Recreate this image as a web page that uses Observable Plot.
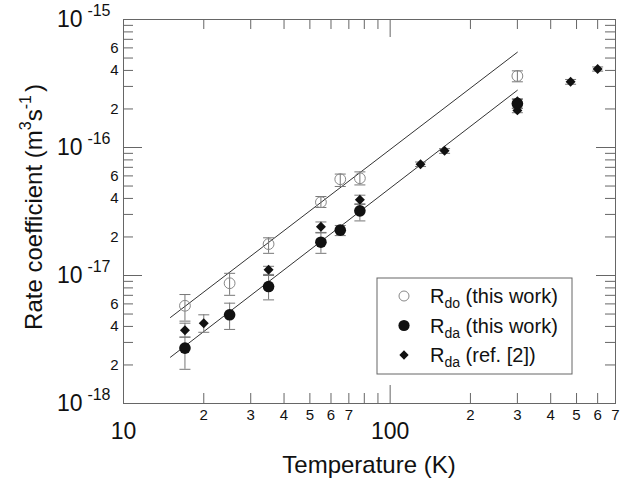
<!DOCTYPE html>
<html>
<head>
<meta charset="utf-8">
<script src="https://cdn.jsdelivr.net/npm/d3@7"></script>
<script src="https://cdn.jsdelivr.net/npm/@observablehq/plot@0.6"></script>
<style>
  html, body { margin: 0; padding: 0; background: #fff; }
  #chart { width: 637px; height: 486px; }
</style>
</head>
<body>
<div id="chart"></div>
<script>
// ---- data ----
const T_this = [17, 25, 35, 55, 65, 77, 300];
const Rdo    = [5.8e-18, 8.7e-18, 1.76e-17, 3.74e-17, 5.65e-17, 5.75e-17, 3.62e-16];
const Rdo_lo = [4.4e-18, 7.0e-18, 1.49e-17, 3.4e-17, 4.96e-17, 5.1e-17, 3.26e-16];
const Rdo_hi = [7.1e-18, 1.04e-17, 1.97e-17, 4.14e-17, 6.2e-17, 6.45e-17, 3.97e-16];

const Rda    = [2.71e-18, 4.93e-18, 8.2e-18, 1.82e-17, 2.26e-17, 3.2e-17, 2.2e-16];
const Rda_lo = [1.85e-18, 3.79e-18, 6.45e-18, 1.49e-17, 2.05e-17, 2.67e-17, 2.02e-16];
const Rda_hi = [3.3e-18, 6.08e-18, 1.0e-17, 2.17e-17, 2.46e-17, 3.59e-17, 2.38e-16];

const T_ref   = [17, 20, 35, 55, 77, 130, 160, 300, 300, 475, 600];
const Rref    = [3.74e-18, 4.24e-18, 1.11e-17, 2.4e-17, 3.9e-17, 7.41e-17, 9.42e-17, 1.95e-16, 2.3e-16, 3.26e-16, 4.1e-16];
const Rref_lo = [3.3e-18, 3.6e-18, 1.02e-17, 2.15e-17, 3.63e-17, 7.1e-17, 9.0e-17, 1.87e-16, 2.2e-16, 3.12e-16, 3.95e-16];
const Rref_hi = [4.24e-18, 4.93e-18, 1.18e-17, 2.62e-17, 4.24e-17, 7.7e-17, 9.8e-17, 2.03e-16, 2.4e-16, 3.4e-16, 4.26e-16];

const fitT  = [15, 300];
const fitDo = [4.7e-18, 5.55e-16];
const fitDa = [2.3e-18, 2.8e-16];

const xMajorTicks = [10, 100];
const xMinorTicks = [20, 30, 40, 50, 60, 70, 80, 90, 200, 300, 400, 500, 600, 700];
const xLabelTicks = [20, 30, 40, 50, 60, 70, 200, 300, 400, 500, 600, 700];
const yMajorTicks = [1e-18, 1e-17, 1e-16, 1e-15];
const yMinorTicks = [2e-18,3e-18,4e-18,5e-18,6e-18,7e-18,8e-18,9e-18,
                     2e-17,3e-17,4e-17,5e-17,6e-17,7e-17,8e-17,9e-17,
                     2e-16,3e-16,4e-16,5e-16,6e-16,7e-16,8e-16,9e-16];
const yLabelTicks = [2e-18,4e-18,6e-18,2e-17,4e-17,6e-17,2e-16,4e-16,6e-16];

const xTitle = "Temperature (K)";
const legendLabels = [["R","do"," (this work)"],["R","da"," (this work)"],["R","da"," (ref. [2])"]];

// ---- tables ----
const doData  = T_this.map((t,i) => ({T:t, v:Rdo[i], lo:Rdo_lo[i], hi:Rdo_hi[i]}));
const daData  = T_this.map((t,i) => ({T:t, v:Rda[i], lo:Rda_lo[i], hi:Rda_hi[i]}));
const refData = T_ref.map((t,i) => ({T:t, v:Rref[i], lo:Rref_lo[i], hi:Rref_hi[i]}));
const fitData = [
  ...fitT.map((t,i) => ({T:t, v:fitDo[i], s:"do"})),
  ...fitT.map((t,i) => ({T:t, v:fitDa[i], s:"da"}))
];

const W = 637, H = 486, mL = 123, mR = 22, mT = 19, mB = 83;
const PH = H - mT - mB, PW = W - mL - mR;
const axisColor = "#666";
const errColor = "#777";

const cap = { draw(ctx) { ctx.moveTo(-5.5, 0); ctx.lineTo(5.5, 0); } };
const lead = v => Math.round(v / Math.pow(10, Math.floor(Math.log10(v) + 1e-9)));

function errMarks(data) {
  return [
    Plot.ruleX(data, {x:"T", y1:"lo", y2:"hi", stroke: errColor, strokeWidth: 1}),
    Plot.dot(data, {x:"T", y:"lo", symbol: cap, r: 5, stroke: errColor, fill: "none", strokeWidth: 1}),
    Plot.dot(data, {x:"T", y:"hi", symbol: cap, r: 5, stroke: errColor, fill: "none", strokeWidth: 1})
  ];
}

const chart = Plot.plot({
  width: W, height: H,
  marginLeft: mL, marginRight: mR, marginTop: mT, marginBottom: mB,
  x: {type: "log", domain: [10, 700], axis: null},
  y: {type: "log", domain: [1e-18, 1e-15], axis: null},
  style: {fontFamily: "'Liberation Sans', Arial, Helvetica, sans-serif", background: "#fff", color: "#111"},
  marks: [
    // ticks (inward, all four sides)
    Plot.ruleX(xMinorTicks, {insetTop: PH - 10, stroke: axisColor}),
    Plot.ruleX(xMinorTicks, {insetBottom: PH - 10, stroke: axisColor}),
    Plot.ruleX(xMajorTicks, {insetTop: PH - 18, stroke: axisColor}),
    Plot.ruleX(xMajorTicks, {insetBottom: PH - 18, stroke: axisColor}),
    Plot.ruleY(yMinorTicks, {insetRight: PW - 10, stroke: axisColor}),
    Plot.ruleY(yMinorTicks, {insetLeft: PW - 10, stroke: axisColor}),
    Plot.ruleY(yMajorTicks, {insetRight: PW - 19, stroke: axisColor}),
    Plot.ruleY(yMajorTicks, {insetLeft: PW - 19, stroke: axisColor}),
    Plot.frame({stroke: axisColor}),
    // tick labels
    Plot.text(xLabelTicks, {x: d => d, text: d => String(lead(d)), frameAnchor: "bottom", dy: 16, fontSize: 15, fill: "#111"}),
    Plot.text(xMajorTicks, {x: d => d, text: d => String(d), frameAnchor: "bottom", dy: 35, fontSize: 23, fill: "#111"}),
    Plot.text(yLabelTicks, {y: d => d, text: d => String(lead(d)), frameAnchor: "left", textAnchor: "end", dx: -5, fontSize: 15, fill: "#111"}),
    Plot.text(yMajorTicks, {y: d => d, text: () => "10", frameAnchor: "left", textAnchor: "end", dx: -41, dy: 0, fontSize: 23, fill: "#111"}),
    Plot.text(yMajorTicks, {y: d => d, text: d => String(Math.round(Math.log10(d))), frameAnchor: "left", textAnchor: "end", dx: -13, dy: -9, fontSize: 16, fill: "#111"}),
    // fit lines
    Plot.line(fitData, {x: "T", y: "v", z: "s", stroke: "#333", strokeWidth: 1}),
    // error bars
    ...errMarks(doData),
    ...errMarks(refData),
    ...errMarks(daData),
    // markers
    Plot.dot(doData, {x: "T", y: "v", r: 5.4, fill: "none", stroke: "#888", strokeWidth: 1}),
    Plot.dot(refData, {x: "T", y: "v", r: 4.5, symbol: "diamond2", fill: "#111", stroke: "none"}),
    Plot.dot(daData, {x: "T", y: "v", r: 5.8, fill: "#111", stroke: "none"})
  ]
});

document.getElementById("chart").appendChild(chart);

// ---- axis titles and legend ----
const svg = d3.select(chart);
const ff = "'Liberation Sans', Arial, Helvetica, sans-serif";

svg.append("text")
  .attr("x", mL + PW / 2).attr("y", 473)
  .attr("text-anchor", "middle")
  .style("font-family", ff).style("font-size", "24px").attr("fill", "#111")
  .text(xTitle);

const yt = svg.append("text")
  .attr("transform", "translate(42,207) rotate(-90)")
  .attr("text-anchor", "middle")
  .style("font-family", ff).style("font-size", "24px").attr("fill", "#111");
yt.append("tspan").text("Rate coefficient (m");
yt.append("tspan").attr("dy", -11).style("font-size", "16px").text("3");
yt.append("tspan").attr("dy", 11).text("s");
yt.append("tspan").attr("dy", -11).style("font-size", "16px").text("-1");
yt.append("tspan").attr("dy", 11).attr("dx", 3).text(")");

const lg = svg.append("g");
lg.append("rect").attr("x", 377).attr("y", 278).attr("width", 195).attr("height", 96)
  .attr("fill", "#fff").attr("stroke", axisColor).attr("stroke-width", 1);
const rowsY = [296, 325.5, 355];
lg.append("circle").attr("cx", 404).attr("cy", rowsY[0]).attr("r", 5).attr("fill", "none").attr("stroke", "#888");
lg.append("circle").attr("cx", 404).attr("cy", rowsY[1]).attr("r", 5.6).attr("fill", "#111");
lg.append("path").attr("d", d3.symbol(d3.symbolDiamond2, 55)()).attr("transform", `translate(404,${rowsY[2]})`).attr("fill", "#111");
legendLabels.forEach((parts, i) => {
  const t = lg.append("text").attr("x", 430).attr("y", rowsY[i] + 7)
    .attr("text-anchor", "start")
    .style("font-family", ff).style("font-size", "20px").attr("fill", "#111");
  t.append("tspan").text(parts[0]);
  t.append("tspan").attr("dy", 5).style("font-size", "14px").text(parts[1]);
  t.append("tspan").attr("dy", -5).text(parts[2]);
});
</script>
</body>
</html>
